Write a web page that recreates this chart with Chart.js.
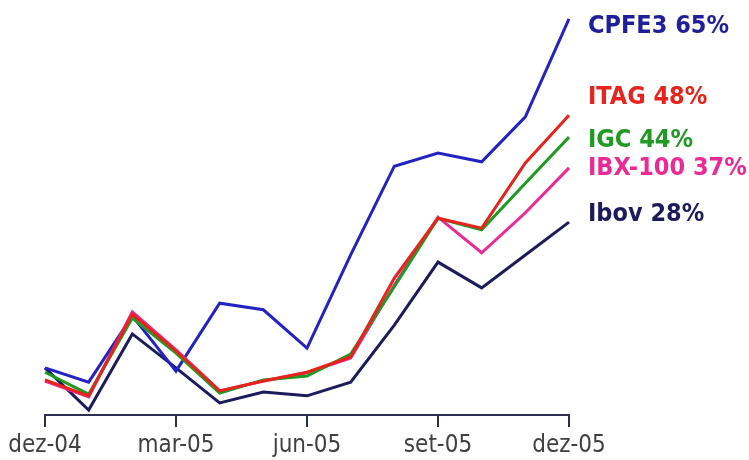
<!DOCTYPE html>
<html>
<head>
<meta charset="utf-8">
<script src="https://cdn.jsdelivr.net/npm/chart.js@4.4.1/dist/chart.umd.min.js"></script>
<style>
html, body { margin: 0; padding: 0; background: #fff; }
#wrap { width: 749px; height: 460px; }
</style>
</head>
<body>
<div id="wrap"><canvas id="chart"></canvas></div>
<script>
// monthly closes, % return vs dez-04
var months = ['dez-04', 'jan-05', 'fev-05', 'mar-05', 'abr-05', 'mai-05', 'jun-05', 'jul-05', 'ago-05', 'set-05', 'out-05', 'nov-05', 'dez-05'];
var shownMonths = ['dez-04', 'mar-05', 'jun-05', 'set-05', 'dez-05'];

var cpfe3 = [1.3, -1.3, 10.8, 0.7, 13.1, 11.9, 4.9, 21.9, 38.1, 40.5, 38.9, 47.1, 65.0];
var itag  = [-0.9, -3.8, 11.1, 4.4, -2.9, -1.1, 0.5, 3.3, 17.7, 28.6, 26.8, 38.7, 47.4];
var igc   = [0.5, -3.5, 10.4, 4.0, -3.3, -0.9, -0.2, 3.8, 16.1, 28.6, 26.5, 35.0, 43.4];
var ibx   = [-1.1, -4.0, 11.5, 4.6, -2.9, -1.1, 0.4, 3.1, 16.4, 28.8, 22.3, 29.6, 37.8];
var ibov  = [1.3, -6.4, 7.5, 1.3, -5.1, -3.1, -3.8, -1.3, 9.1, 20.6, 15.9, 21.9, 27.9];

var names  = ['ITAG', 'IGC', 'IBX-100', 'CPFE3', 'Ibov'];
var totals = [48, 44, 37, 65, 28];

var labelFont = '"DejaVu Sans Condensed", "DejaVu Sans", sans-serif';

var endLabels = {
    id: 'endLabels',
    afterDatasetsDraw: function (chart) {
        var ctx = chart.ctx;
        var x = chart.scales.x.right + 19;
        ctx.save();
        ctx.font = 'bold 25px ' + labelFont;
        ctx.textBaseline = 'alphabetic';
        chart.data.datasets.forEach(function (ds, i) {
            var pts = chart.getDatasetMeta(i).data;
            var last = pts[pts.length - 1];
            ctx.fillStyle = ds.textColor;
            ctx.fillText(ds.label + ' ' + totals[i] + '%', x, last.y + ds.textShift);
        });
        ctx.restore();
    }
};

function line(name, values, color, textColor, shift) {
    return {
        label: name,
        data: values,
        borderColor: color,
        backgroundColor: color,
        borderWidth: 3,
        pointRadius: 0,
        tension: 0,
        clip: false,
        textColor: textColor,
        textShift: shift
    };
}

var ctx = document.getElementById('chart');
new Chart(ctx, {
    type: 'line',
    data: {
        labels: months,
        datasets: [
            line(names[0], itag, '#e8221c', '#e8221c', -11),
            line(names[1], igc, '#1f9a22', '#1f9a22', 10),
            line(names[2], ibx, '#ec2a96', '#ec2a96', 7),
            line(names[3], cpfe3, '#2323c4', '#1f1f9c', 14),
            line(names[4], ibov, '#1c1c5c', '#1c1c5c', -1.5)
        ]
    },
    options: {
        responsive: true,
        maintainAspectRatio: false,
        animation: false,
        layout: {
            padding: { left: 45, right: 180, top: 10, bottom: -5 }
        },
        plugins: {
            legend: { display: false },
            tooltip: { enabled: false }
        },
        scales: {
            x: {
                offset: false,
                border: { display: true, color: '#2e2e50', width: 2 },
                grid: {
                    drawOnChartArea: false,
                    color: '#2e2e50',
                    lineWidth: 2,
                    tickLength: 12
                },
                ticks: {
                    autoSkip: false,
                    maxRotation: 0,
                    padding: 7,
                    color: '#404040',
                    font: { family: labelFont, size: 24, lineHeight: 1 },
                    callback: function (v, i) {
                        var m = months[i];
                        return shownMonths.indexOf(m) >= 0 ? m : null;
                    }
                }
            },
            y: {
                display: false,
                min: -7.3,
                max: 66.6
            }
        }
    },
    plugins: [endLabels]
});
</script>
</body>
</html>
